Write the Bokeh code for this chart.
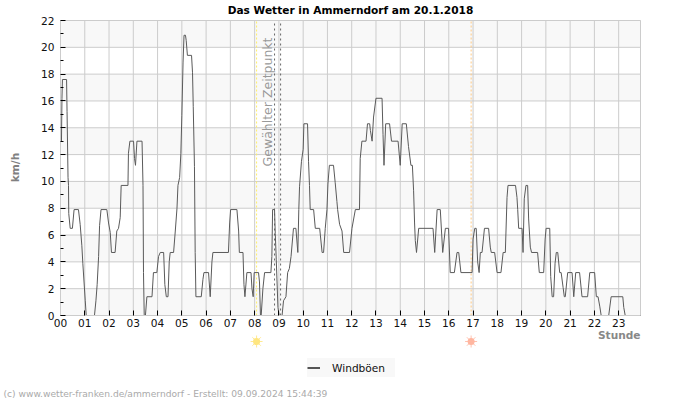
from bokeh.embed import file_html
from bokeh.resources import INLINE
from bokeh.plotting import figure
from bokeh.models import Label, FixedTicker, Legend, LegendItem, Range1d, LinearAxis

TITLE = "Das Wetter in Ammerndorf am 20.1.2018"
HOURS = [f"{h:02d}" for h in range(24)]
T = [0.04,0.06,0.08,0.25,0.27,0.31,0.33,0.34,0.40,0.49,0.56,0.74,0.81,0.88,0.92,0.98,1.02,1.06,1.40,1.46,
     1.51,1.57,1.61,1.67,1.91,1.98,2.05,2.10,2.25,2.32,2.39,2.46,2.50,2.78,2.80,2.86,3.01,3.05,3.09,3.15,
     3.36,3.40,3.42,3.45,3.50,3.56,3.77,3.83,3.97,4.04,4.11,4.25,4.30,4.36,4.43,4.48,4.52,4.66,4.73,4.80,
     4.84,4.91,4.96,5.00,5.05,5.09,5.15,5.18,5.23,5.40,5.44,5.47,5.52,5.55,5.58,5.80,5.87,5.91,6.10,6.17,
     6.24,6.28,6.92,6.97,7.01,7.27,7.34,7.37,7.52,7.56,7.60,7.68,7.85,7.89,7.94,7.98,8.16,8.20,8.24,8.27,
     8.34,8.41,8.67,8.71,8.74,8.82,8.85,8.89,8.96,9.01,9.13,9.19,9.29,9.36,9.43,9.50,9.60,9.70,9.78,9.82,
     9.85,9.93,10.00,10.03,10.18,10.22,10.26,10.29,10.43,10.50,10.68,10.78,10.84,10.91,10.98,11.02,11.08,11.25,11.32,11.39,
     11.42,11.50,11.60,11.67,11.91,12.01,12.15,12.32,12.35,12.42,12.59,12.65,12.74,12.77,12.84,12.90,13.00,13.25,13.29,13.33,
     13.40,13.56,13.64,13.91,14.00,14.08,14.25,14.34,14.44,14.50,14.55,14.59,14.62,14.67,14.76,15.35,15.42,15.52,15.65,15.75,
     15.86,15.99,16.06,16.23,16.34,16.41,16.50,16.96,17.00,17.07,17.13,17.19,17.25,17.30,17.37,17.47,17.64,17.71,17.75,17.89,
     17.99,18.15,18.24,18.33,18.40,18.44,18.75,18.81,18.84,18.88,19.02,19.06,19.11,19.18,19.25,19.29,19.36,19.41,19.66,19.73,
     19.91,19.97,20.01,20.16,20.20,20.26,20.32,20.38,20.43,20.49,20.57,20.63,20.71,20.76,20.80,20.90,21.08,21.15,21.23,21.39,
     21.49,21.72,21.81,22.01,22.08,22.15,22.22,22.28,22.59,22.69,23.17,23.21,23.27,23.90]
WIND = [13,16.2,17.6,17.6,15.2,10.3,9.7,7.6,6.5,6.5,7.9,7.9,6.8,5.2,3.9,2.2,1.1,0,0,1.1,
        2.3,4.4,6.7,7.9,7.9,6.9,6.2,4.7,4.7,6.3,6.5,7.3,9.7,9.7,12.1,13,13,11.7,11.2,13,
        13,9.7,3.2,0,0,1.4,1.4,3.2,3.2,4.4,4.7,4.7,2.3,1.4,1.4,4.0,4.7,4.7,6.3,8.0,
        9.7,10.3,12.1,14.9,18.9,20.9,20.9,20.5,19.4,19.4,18.1,15.6,11.1,4.7,1.4,1.4,2.7,3.2,3.2,1.4,
        4.0,4.7,4.7,6.9,7.9,7.9,6.3,4.7,4.7,2.3,1.4,3.2,3.2,2.0,1.4,3.2,3.2,2.5,0,0,
        2.0,3.2,3.2,4.4,7.9,7.9,6.1,4.2,0.6,0,0,1.1,1.4,3.2,3.5,4.4,6.5,6.5,4.7,7.9,
        9.6,11.5,12.4,14.3,14.3,11.5,9.7,7.9,7.9,6.5,6.5,4.7,4.7,6.5,7.9,9.8,11.2,11.2,9.9,8.5,
        7.9,6.8,6.3,4.7,4.7,6.5,7.9,7.9,11.7,13,13,14.3,14.3,13.8,13,14.8,16.2,16.2,13.5,11.2,
        14.3,14.3,13,13,11.2,14.3,14.3,12.6,11.2,11.2,9.3,6.9,5.6,4.7,6.5,6.5,4.7,7.9,7.9,4.7,
        6.5,6.5,3.2,3.2,4.7,4.7,3.2,3.2,5.7,6.5,6.5,4.0,3.2,4.7,4.7,6.5,6.5,5.1,4.7,4.7,
        3.2,3.2,4.7,4.7,8.8,9.7,9.7,8.8,7.9,6.5,6.5,4.7,8.7,9.7,9.7,7.2,5.1,4.7,4.7,3.2,
        3.2,5.7,6.5,6.5,2.9,1.4,1.4,3.9,4.7,4.7,3.2,3.2,2.1,1.4,1.4,3.2,3.2,1.4,3.2,3.2,
        1.4,1.4,3.2,3.2,1.4,1.4,0.7,0,0,1.4,1.4,0.6,0,0]
BAND_BOTTOM = [0, 4, 8, 12, 16, 20]
BAND_TOP = [2, 6, 10, 14, 18, 22]
EVENTS = [8.08, 16.92]
EVENT_COLORS = ["#ffee66", "#ffc880"]
SUN_COLORS = ["#ffe680", "#ffb6a0"]
SELECTED = [8.82, 9.07]
X_END, Y_END = 23.9, 22

GRID = "#cccccc"
W, H = 700, 400
FL, FR, FT, FB = 60, 640, 20, 315
dx = X_END / (FR - FL)
dy = Y_END / (FB - FT)

p = figure(width=W, height=H, output_backend="svg", toolbar_location=None,
           x_range=Range1d(-FL * dx, X_END + (W - FR) * dx),
           y_range=Range1d(-(H - FB) * dy, Y_END + FT * dy),
           x_axis_type=None, y_axis_type=None,
           min_border_left=0, min_border_right=0, min_border_top=0, min_border_bottom=0,
           background_fill_color="white", border_fill_color="white")
p.outline_line_color = None
p.xgrid.visible = False
p.ygrid.visible = False

p.quad(left=0, right=X_END, bottom=BAND_BOTTOM, top=BAND_TOP, fill_color="#f8f8f8",
       line_color=None, level="image")

ticks_x = list(range(24))
ticks_y = list(range(0, 23, 2))
p.segment(x0=ticks_x, y0=0, x1=ticks_x, y1=Y_END, line_color=GRID, line_width=1, level="underlay")
p.segment(x0=0, y0=ticks_y, x1=X_END, y1=ticks_y, line_color=GRID, line_width=1, level="underlay")
p.quad(left=[0], right=[X_END], bottom=[0], top=[Y_END], fill_color=None, line_color=GRID, line_width=1, level="underlay")

xaxis = LinearAxis(ticker=FixedTicker(ticks=ticks_x), fixed_location=0, bounds=(0, X_END))
xaxis.major_label_overrides = {i: s for i, s in enumerate(HOURS)}
yaxis = LinearAxis(ticker=FixedTicker(ticks=ticks_y, minor_ticks=list(range(1, 22, 2))), fixed_location=0, bounds=(0, Y_END))
for ax in (xaxis, yaxis):
    ax.axis_line_color = GRID
    ax.major_tick_in = 5
    ax.major_tick_out = 0
    ax.minor_tick_in = 0
    ax.minor_tick_out = 0
    ax.major_tick_line_color = "black"
    ax.major_label_text_font = "DejaVu Sans"
    ax.major_label_text_font_size = "10.6px"
    ax.major_label_text_color = "#111111"
    ax.major_label_standoff = 3
yaxis.major_label_standoff = 6
yaxis.minor_tick_in = 3
yaxis.minor_tick_line_color = "black"
p.add_layout(xaxis, "below")
p.add_layout(yaxis, "left")

p.segment(x0=EVENTS, y0=0, x1=EVENTS, y1=Y_END, line_color=EVENT_COLORS, line_dash="2 2", line_width=1)
p.segment(x0=SELECTED, y0=0, x1=SELECTED, y1=Y_END, line_color="#666666", line_dash="2 3", line_width=1)

line = p.line(T, WIND, line_color="#5a5a5a", line_width=1)

SUN_Y = [(FB - 341) * dy] * 2
p.scatter(EVENTS, SUN_Y, marker="asterisk", size=12, line_color=SUN_COLORS, line_alpha=0.85, line_width=1)
p.scatter(EVENTS, SUN_Y, marker="circle", size=7, fill_color=SUN_COLORS, line_color=None)

def lab(text, x, y, size, color="#000000", bold=False, align="left", baseline="middle", angle=0):
    p.add_layout(Label(x=x, y=H - y, x_units="screen", y_units="screen", text=text,
                       text_font="DejaVu Sans", text_font_size=size, text_color=color,
                       text_font_style="bold" if bold else "normal",
                       text_align=align, text_baseline=baseline, angle=angle, angle_units="deg"))

lab(TITLE, 350, 9, "10.6px", "#000000", True, "center")
lab("km/h", 14.5, 167, "10.6px", "#808080", True, "center", angle=90)
lab("Stunde", 640, 334, "10.6px", "#888888", True, "right")
lab("Gewählter Zeitpunkt", 267, 101.5, "12.5px", "#999999", False, "center", angle=90)
lab("(c) www.wetter-franken.de/ammerndorf - Erstellt: 09.09.2024 15:44:39", 3, 393, "9.15px", "#aaaaaa")

legend_line = p.line([-9, -8], [-9, -9], line_color="#555555", line_width=2)
legend = Legend(items=[LegendItem(label="Windböen", renderers=[legend_line])], location=(307, 23),
                background_fill_color="#f8f8f8", background_fill_alpha=1, border_line_color=None,
                label_text_font="DejaVu Sans", label_text_font_size="10.6px", label_text_color="#111111",
                glyph_width=13, glyph_height=9, label_standoff=12, label_width=63, label_height=19,
                padding=3, margin=0, spacing=0)
p.add_layout(legend)

open("out.html", "w").write(file_html(p, INLINE))
